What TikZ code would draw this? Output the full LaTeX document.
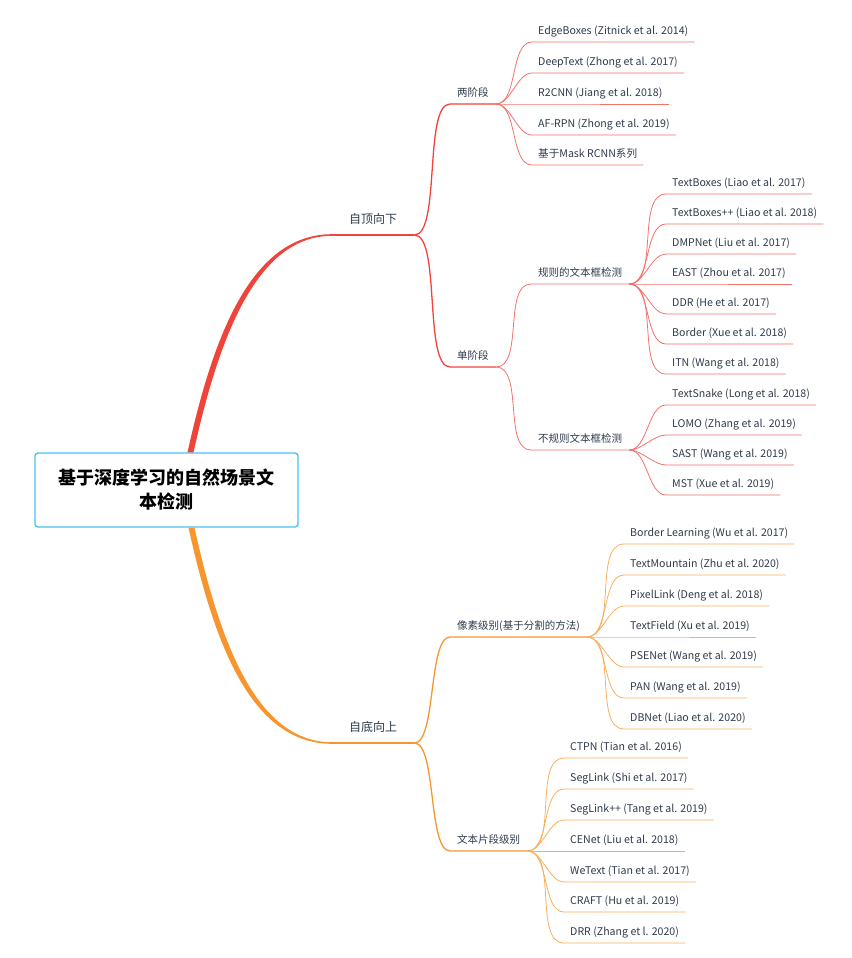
\documentclass[tikz,border=0pt]{standalone}
\usepackage{fontspec}
\setmainfont{Noto Sans CJK SC}
\usepackage{tikz}

\definecolor{tdred}{HTML}{F0433A}
\definecolor{tdpink}{HTML}{F4716A}
\definecolor{buorange}{HTML}{F7962F}
\definecolor{bulight}{HTML}{F9AE5E}
\definecolor{rootblue}{HTML}{4AC2F5}
\definecolor{ink}{HTML}{2E3A4B}

\tikzset{
  rootbox/.style={draw=rootblue, line width=1.4pt, rounded corners=3pt, minimum width=263pt,
    minimum height=74pt, align=center, text=black, font=\bfseries\fontsize{18}{24}\selectfont},
  topic/.style={anchor=south west, inner xsep=7pt, inner ysep=7pt, text depth=0pt, text=ink,
    font=\fontsize{10.5}{12}\selectfont},
  maintopic/.style={topic, inner xsep=17pt, inner ysep=11pt, font=\fontsize{12}{14}\selectfont},
  leaf/.style={topic, inner xsep=6pt, font=\fontsize{10.6}{12}\selectfont},
  branch/.style={out=0, in=180, looseness=#1},
  branch/.default=0.8,
  tdline/.style={draw=tdred, line width=1.3pt},
  tdthin/.style={draw=tdpink, line width=0.8pt},
  buline/.style={draw=buorange, line width=1.3pt},
  buthin/.style={draw=bulight, line width=0.8pt},
}

\begin{document}
\begin{tikzpicture}[x=1pt, y=-1pt]
  \useasboundingbox (0,0) rectangle (851,958);

  \node[rootbox] (root) at (166.5,490) {基于深度学习的自然场景文\\本检测};
  \coordinate (rt) at ([xshift=24pt]root.north);
  \coordinate (rb) at ([xshift=25pt]root.south);

  % top-down half
  \node[maintopic] (td) at (332,235) {自顶向下};
  \node[topic] (two) at (450,104) {两阶段};
  \node[topic] (one) at (450,367) {单阶段};
  \node[topic] (reg) at (531,284) {规则的文本框检测};
  \node[topic] (irr) at (531,450) {不规则文本框检测};
  \node[leaf] (t1) at (532,42) {EdgeBoxes (Zitnick et al. 2014)};
  \node[leaf] (t2) at (532,73) {DeepText (Zhong et al. 2017)};
  \node[leaf] (t3) at (532,104) {R2CNN (Jiang et al. 2018)};
  \node[leaf] (t4) at (532,135) {AF-RPN (Zhong et al. 2019)};
  \node[leaf] (t5) at (532,165) {基于Mask RCNN系列};
  \node[leaf] (r1) at (666,194) {TextBoxes (Liao et al. 2017)};
  \node[leaf] (r2) at (666,224) {TextBoxes++ (Liao et al. 2018)};
  \node[leaf] (r3) at (666,254) {DMPNet (Liu et al. 2017)};
  \node[leaf] (r4) at (666,284) {EAST (Zhou et al. 2017)};
  \node[leaf] (r5) at (666,314) {DDR (He et al. 2017)};
  \node[leaf] (r6) at (666,344) {Border (Xue et al. 2018)};
  \node[leaf] (r7) at (666,374) {ITN (Wang et al. 2018)};
  \node[leaf] (i1) at (666,405) {TextSnake (Long et al. 2018)};
  \node[leaf] (i2) at (666,435) {LOMO (Zhang et al. 2019)};
  \node[leaf] (i3) at (666,465) {SAST (Wang et al. 2019)};
  \node[leaf] (i4) at (666,495) {MST (Xue et al. 2019)};

  % bottom-up half
  \node[maintopic] (bu) at (332,743) {自底向上};
  \node[topic] (pix) at (450,637) {像素级别(基于分割的方法)};
  \node[topic] (seg) at (450,851) {文本片段级别};
  \node[leaf] (p1) at (624,544) {Border Learning (Wu et al. 2017)};
  \node[leaf] (p2) at (624,575) {TextMountain (Zhu et al. 2020)};
  \node[leaf] (p3) at (624,606) {PixelLink (Deng et al. 2018)};
  \node[leaf] (p4) at (624,637) {TextField (Xu et al. 2019)};
  \node[leaf] (p5) at (624,667) {PSENet (Wang et al. 2019)};
  \node[leaf] (p6) at (624,698) {PAN (Wang et al. 2019)};
  \node[leaf] (p7) at (624,729) {DBNet (Liao et al. 2020)};
  \node[leaf] (s1) at (564,758) {CTPN (Tian et al. 2016)};
  \node[leaf] (s2) at (564,789) {SegLink (Shi et al. 2017)};
  \node[leaf] (s3) at (564,820) {SegLink++ (Tang et al. 2019)};
  \node[leaf] (s4) at (564,851) {CENet (Liu et al. 2018)};
  \node[leaf] (s5) at (564,882) {WeText (Tian et al. 2017)};
  \node[leaf] (s6) at (564,912) {CRAFT (Hu et al. 2019)};
  \node[leaf] (s7) at (564,943) {DRR (Zhang et l. 2020)};

  % thick tapered branches out of the root
  \fill[tdred] ([xshift=-3pt]rt) .. controls +(25,-113) and +(-82,0) .. ([yshift=0.8pt]td.south west)
    -- ([yshift=-0.8pt]td.south west) .. controls +(-76,0) and +(25,-113) .. ([xshift=3pt]rt) -- cycle;
  \fill[buorange] ([xshift=-3pt]rb) .. controls +(25,113) and +(-82,0) .. ([yshift=-0.8pt]bu.south west)
    -- ([yshift=0.8pt]bu.south west) .. controls +(-76,0) and +(25,113) .. ([xshift=3pt]rb) -- cycle;
  \draw[tdline] (td.south west) -- (td.south east);
  \draw[buline] (bu.south west) -- (bu.south east);

  \draw[tdline] (td.south east) to[branch=0.5] (two.south west) -- (two.south east);
  \draw[tdline] (td.south east) to[branch=0.5] (one.south west) -- (one.south east);
  \draw[tdthin] (one.south east) to[branch] (reg.south west) -- (reg.south east);
  \draw[tdthin] (one.south east) to[branch] (irr.south west) -- (irr.south east);
  \draw[tdthin] (two.south east) to[branch] (t1.south west) -- (t1.south east);
  \draw[tdthin] (two.south east) to[branch] (t2.south west) -- (t2.south east);
  \draw[tdthin] (two.south east) to[branch] (t3.south west) -- (t3.south east);
  \draw[tdthin] (two.south east) to[branch] (t4.south west) -- (t4.south east);
  \draw[tdthin] (two.south east) to[branch] (t5.south west) -- (t5.south east);
  \draw[tdthin] (reg.south east) to[branch] (r1.south west) -- (r1.south east);
  \draw[tdthin] (reg.south east) to[branch] (r2.south west) -- (r2.south east);
  \draw[tdthin] (reg.south east) to[branch] (r3.south west) -- (r3.south east);
  \draw[tdthin] (reg.south east) to[branch] (r4.south west) -- (r4.south east);
  \draw[tdthin] (reg.south east) to[branch] (r5.south west) -- (r5.south east);
  \draw[tdthin] (reg.south east) to[branch] (r6.south west) -- (r6.south east);
  \draw[tdthin] (reg.south east) to[branch] (r7.south west) -- (r7.south east);
  \draw[tdthin] (irr.south east) to[branch] (i1.south west) -- (i1.south east);
  \draw[tdthin] (irr.south east) to[branch] (i2.south west) -- (i2.south east);
  \draw[tdthin] (irr.south east) to[branch] (i3.south west) -- (i3.south east);
  \draw[tdthin] (irr.south east) to[branch] (i4.south west) -- (i4.south east);

  \draw[buline] (bu.south east) to[branch=0.5] (pix.south west) -- (pix.south east);
  \draw[buline] (bu.south east) to[branch=0.5] (seg.south west) -- (seg.south east);
  \draw[buthin] (pix.south east) to[branch] (p1.south west) -- (p1.south east);
  \draw[buthin] (pix.south east) to[branch] (p2.south west) -- (p2.south east);
  \draw[buthin] (pix.south east) to[branch] (p3.south west) -- (p3.south east);
  \draw[buthin] (pix.south east) to[branch] (p4.south west) -- (p4.south east);
  \draw[buthin] (pix.south east) to[branch] (p5.south west) -- (p5.south east);
  \draw[buthin] (pix.south east) to[branch] (p6.south west) -- (p6.south east);
  \draw[buthin] (pix.south east) to[branch] (p7.south west) -- (p7.south east);
  \draw[buthin] (seg.south east) to[branch] (s1.south west) -- (s1.south east);
  \draw[buthin] (seg.south east) to[branch] (s2.south west) -- (s2.south east);
  \draw[buthin] (seg.south east) to[branch] (s3.south west) -- (s3.south east);
  \draw[buthin] (seg.south east) to[branch] (s4.south west) -- (s4.south east);
  \draw[buthin] (seg.south east) to[branch] (s5.south west) -- (s5.south east);
  \draw[buthin] (seg.south east) to[branch] (s6.south west) -- (s6.south east);
  \draw[buthin] (seg.south east) to[branch] (s7.south west) -- (s7.south east);
\end{tikzpicture}
\end{document}
